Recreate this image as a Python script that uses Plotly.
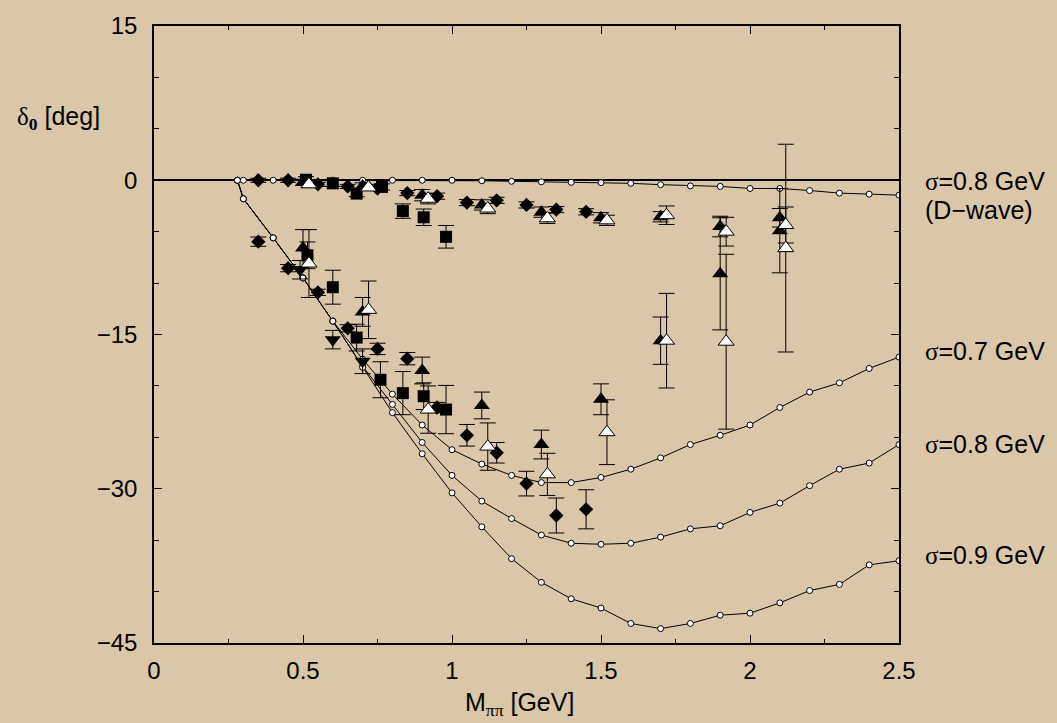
import plotly.graph_objects as go

# ---- model curves (open circles) ----
m_model = [0.28, 0.3, 0.4, 0.5, 0.6, 0.7, 0.8, 0.9, 1.0, 1.1, 1.2, 1.3, 1.4,
           1.5, 1.6, 1.7, 1.8, 1.9, 2.0, 2.1, 2.2, 2.3, 2.4, 2.5]
delta_s_07 = [0.0, -1.8, -5.6, -9.5, -13.7, -17.4, -20.8, -23.8, -26.2, -27.6, -28.7, -29.4,
              -29.4, -28.9, -28.1, -27.0, -25.7, -24.8, -23.8, -22.1, -20.6, -19.7, -18.3, -17.2]
delta_s_08 = [0.0, -1.8, -5.6, -9.5, -13.7, -18.1, -21.8, -25.5, -28.7, -31.2, -32.9, -34.5,
              -35.3, -35.4, -35.3, -34.7, -33.9, -33.6, -32.3, -31.4, -29.7, -28.1, -27.5, -25.7]
delta_s_09 = [0.0, -1.8, -5.6, -9.5, -13.7, -18.2, -22.6, -26.6, -30.4, -33.7, -36.8, -39.1,
              -40.7, -41.6, -43.1, -43.6, -43.1, -42.3, -42.1, -41.1, -39.9, -39.3, -37.4, -37.0]
delta_d_08 = [0.0, 0.0, 0.0, 0.0, 0.0, 0.0, 0.0, 0.0, 0.0, -0.05, -0.1, -0.15,
              -0.2, -0.23, -0.3, -0.43, -0.55, -0.6, -0.8, -0.8, -1.0, -1.25, -1.35, -1.45]

# ---- data: diamonds ----
dia_m = [0.35, 0.45, 0.55, 0.65, 0.75, 0.85, 0.95, 1.05, 1.15, 1.25, 1.35, 1.45,
         0.35, 0.45, 0.55, 0.65, 0.75, 0.85, 0.95, 1.05, 1.15, 1.25, 1.35, 1.45]
dia_d = [0.0, 0.0, -0.4, -0.6, -0.8, -1.25, -1.55, -2.17, -1.95, -2.4, -2.85, -3.07,
         -5.97, -8.55, -10.9, -14.4, -16.4, -17.35, -22.1, -24.8, -26.5, -29.5, -32.6, -32.0]
dia_e = [0.2, 0.2, 0.2, 0.2, 0.2, 0.25, 0.3, 0.3, 0.3, 0.3, 0.3, 0.3,
         0.45, 0.35, 0.3, 0.35, 0.55, 0.6, 0.5, 1.05, 1.0, 1.2, 1.7, 1.9]

# ---- data: squares ----
sq_m = [0.51, 0.60, 0.68, 0.765, 0.835, 0.905, 0.98,
        0.515, 0.60, 0.68, 0.76, 0.835, 0.905, 0.98]
sq_d = [0.05, -0.3, -1.3, -0.65, -3.0, -3.6, -5.5,
        -7.3, -10.4, -15.3, -19.4, -20.7, -21.0, -22.3]
sq_e = [0.3, 0.3, 0.3, 0.3, 0.7, 0.8, 1.1,
        1.3, 1.65, 1.3, 1.75, 2.1, 1.3, 2.35]

# ---- data: filled up-triangles ----
tf_m = [0.50, 0.70, 0.90, 1.10, 1.30, 1.50, 1.70, 1.90, 2.10,
        0.50, 0.70, 0.90, 1.10, 1.30, 1.50, 1.70, 1.90, 2.10]
tf_d = [-0.2, -0.55, -1.45, -2.4, -3.1, -3.65, -3.55, -4.5, -3.65,
        -6.6, -12.8, -18.5, -21.9, -25.7, -21.3, -15.6, -9.1, -4.9]
tf_e = [0.3, 0.3, 0.55, 0.5, 0.5, 0.5, 0.5, 1.0, 0.9,
        1.8, 1.4, 1.3, 1.3, 1.4, 1.5, 2.3, 5.45, 4.1]

# ---- data: open up-triangles ----
to_m = [0.52, 0.72, 0.92, 1.12, 1.32, 1.52, 1.72, 1.92, 2.12,
        0.52, 0.72, 0.92, 1.12, 1.32, 1.52, 1.72, 1.92, 2.12]
to_d = [-0.4, -0.7, -1.8, -2.75, -3.7, -3.9, -3.4, -5.0, -4.35,
        -8.1, -12.6, -22.3, -25.9, -28.6, -24.5, -15.6, -15.7, -6.6]
to_e = [0.3, 0.3, 0.5, 0.5, 0.5, 0.5, 0.9, 1.4, 1.75,
        3.3, 2.8, 2.3, 2.3, 2.05, 3.15, 4.6, 8.5, 10.1]

# ---- data: filled down-triangles ----
td_m = [0.49, 0.60, 0.70]
td_d = [-8.7, -15.5, -17.6]
td_e = [0.9, 0.9, 1.2]

# ---- curve labels ----
label_text = ["σ=0.8 GeV", "(D−wave)", "σ=0.7 GeV", "σ=0.8 GeV", "σ=0.9 GeV"]
label_y = [-0.1, -2.9, -16.6, -25.6, -36.4]

BG = "#d9c7a7"
FONT = "Liberation Sans, Arial, Helvetica, sans-serif"
SERIF = "Liberation Serif, DejaVu Serif, serif"

fig = go.Figure()

circle = dict(symbol="circle", size=6, color="white", line=dict(color="black", width=1))
for name, ys in [("σ=0.7 GeV", delta_s_07), ("σ=0.8 GeV", delta_s_08),
                 ("σ=0.9 GeV", delta_s_09), ("D-wave", delta_d_08)]:
    fig.add_trace(go.Scatter(x=m_model, y=ys, mode="lines+markers", name=name,
                             line=dict(color="black", width=1), marker=circle,
                             showlegend=False))


def err(e):
    return dict(type="data", array=e, visible=True, color="black", thickness=1, width=8)


fig.add_trace(go.Scatter(x=dia_m, y=dia_d, mode="markers", error_y=err(dia_e),
                         marker=dict(symbol="diamond", size=11, color="black",
                                     line=dict(width=0)), showlegend=False))
fig.add_trace(go.Scatter(x=sq_m, y=sq_d, mode="markers", error_y=err(sq_e),
                         marker=dict(symbol="square", size=12, color="black",
                                     line=dict(width=0)), showlegend=False))
fig.add_trace(go.Scatter(x=td_m, y=td_d, mode="markers", error_y=err(td_e),
                         marker=dict(symbol="triangle-down", size=14, color="black",
                                     line=dict(width=0)), showlegend=False))
fig.add_trace(go.Scatter(x=tf_m, y=tf_d, mode="markers", error_y=err(tf_e),
                         marker=dict(symbol="triangle-up", size=14, color="black",
                                     line=dict(width=0)), showlegend=False))
fig.add_trace(go.Scatter(x=to_m, y=to_d, mode="markers", error_y=err(to_e),
                         marker=dict(symbol="triangle-up", size=14, color="white",
                                     line=dict(color="black", width=1)), showlegend=False))

axis_common = dict(showline=True, linecolor="black", linewidth=1.5, mirror="ticks",
                   ticks="inside", ticklen=8, tickwidth=1, tickcolor="black",
                   showgrid=False, tickfont=dict(family=FONT, size=24, color="black"))

fig.update_xaxes(range=[0, 2.5], tick0=0, dtick=0.5, zeroline=False,
                 minor=dict(dtick=0.25, ticks="inside", ticklen=4, tickwidth=1,
                            tickcolor="black", showgrid=False),
                 ticklabelstandoff=5, **axis_common)
fig.update_yaxes(range=[-45, 15], tick0=0, dtick=15, zeroline=True,
                 zerolinecolor="black", zerolinewidth=1.5,
                 minor=dict(dtick=5, ticks="inside", ticklen=5, tickwidth=1,
                            tickcolor="black", showgrid=False),
                 ticklabelstandoff=10, **axis_common)

annotations = [
    dict(text=f"<span style='font-family:{SERIF}'>δ<sub><b>0</b></sub></span> [deg]",
         xref="paper", x=0, xanchor="right", xshift=-52,
         yref="y", y=6.1, yanchor="middle", showarrow=False,
         font=dict(family=FONT, size=25, color="black")),
    dict(text=f"M<sub><span style='font-family:{SERIF}'>ππ</span></sub> [GeV]",
         xref="paper", x=0.49, xanchor="center",
         yref="paper", y=0, yanchor="middle", yshift=-61, showarrow=False,
         font=dict(family=FONT, size=25, color="black")),
]
for t, y in zip(label_text, label_y):
    t = t.replace("σ", f"<span style='font-family:{SERIF}'>σ</span>")
    annotations.append(dict(text=t, xref="paper", x=1, xanchor="left",
                            xshift=18 if "D" not in t else 24,
                            yref="y", y=y, yanchor="middle", showarrow=False,
                            font=dict(family=FONT, size=25, color="black")))

fig.update_layout(width=1057, height=723,
                  margin=dict(l=154, r=158, t=23, b=80),
                  paper_bgcolor=BG, plot_bgcolor=BG,
                  font=dict(family=FONT, color="black"),
                  annotations=annotations, showlegend=False)

fig.write_html("out.html")
